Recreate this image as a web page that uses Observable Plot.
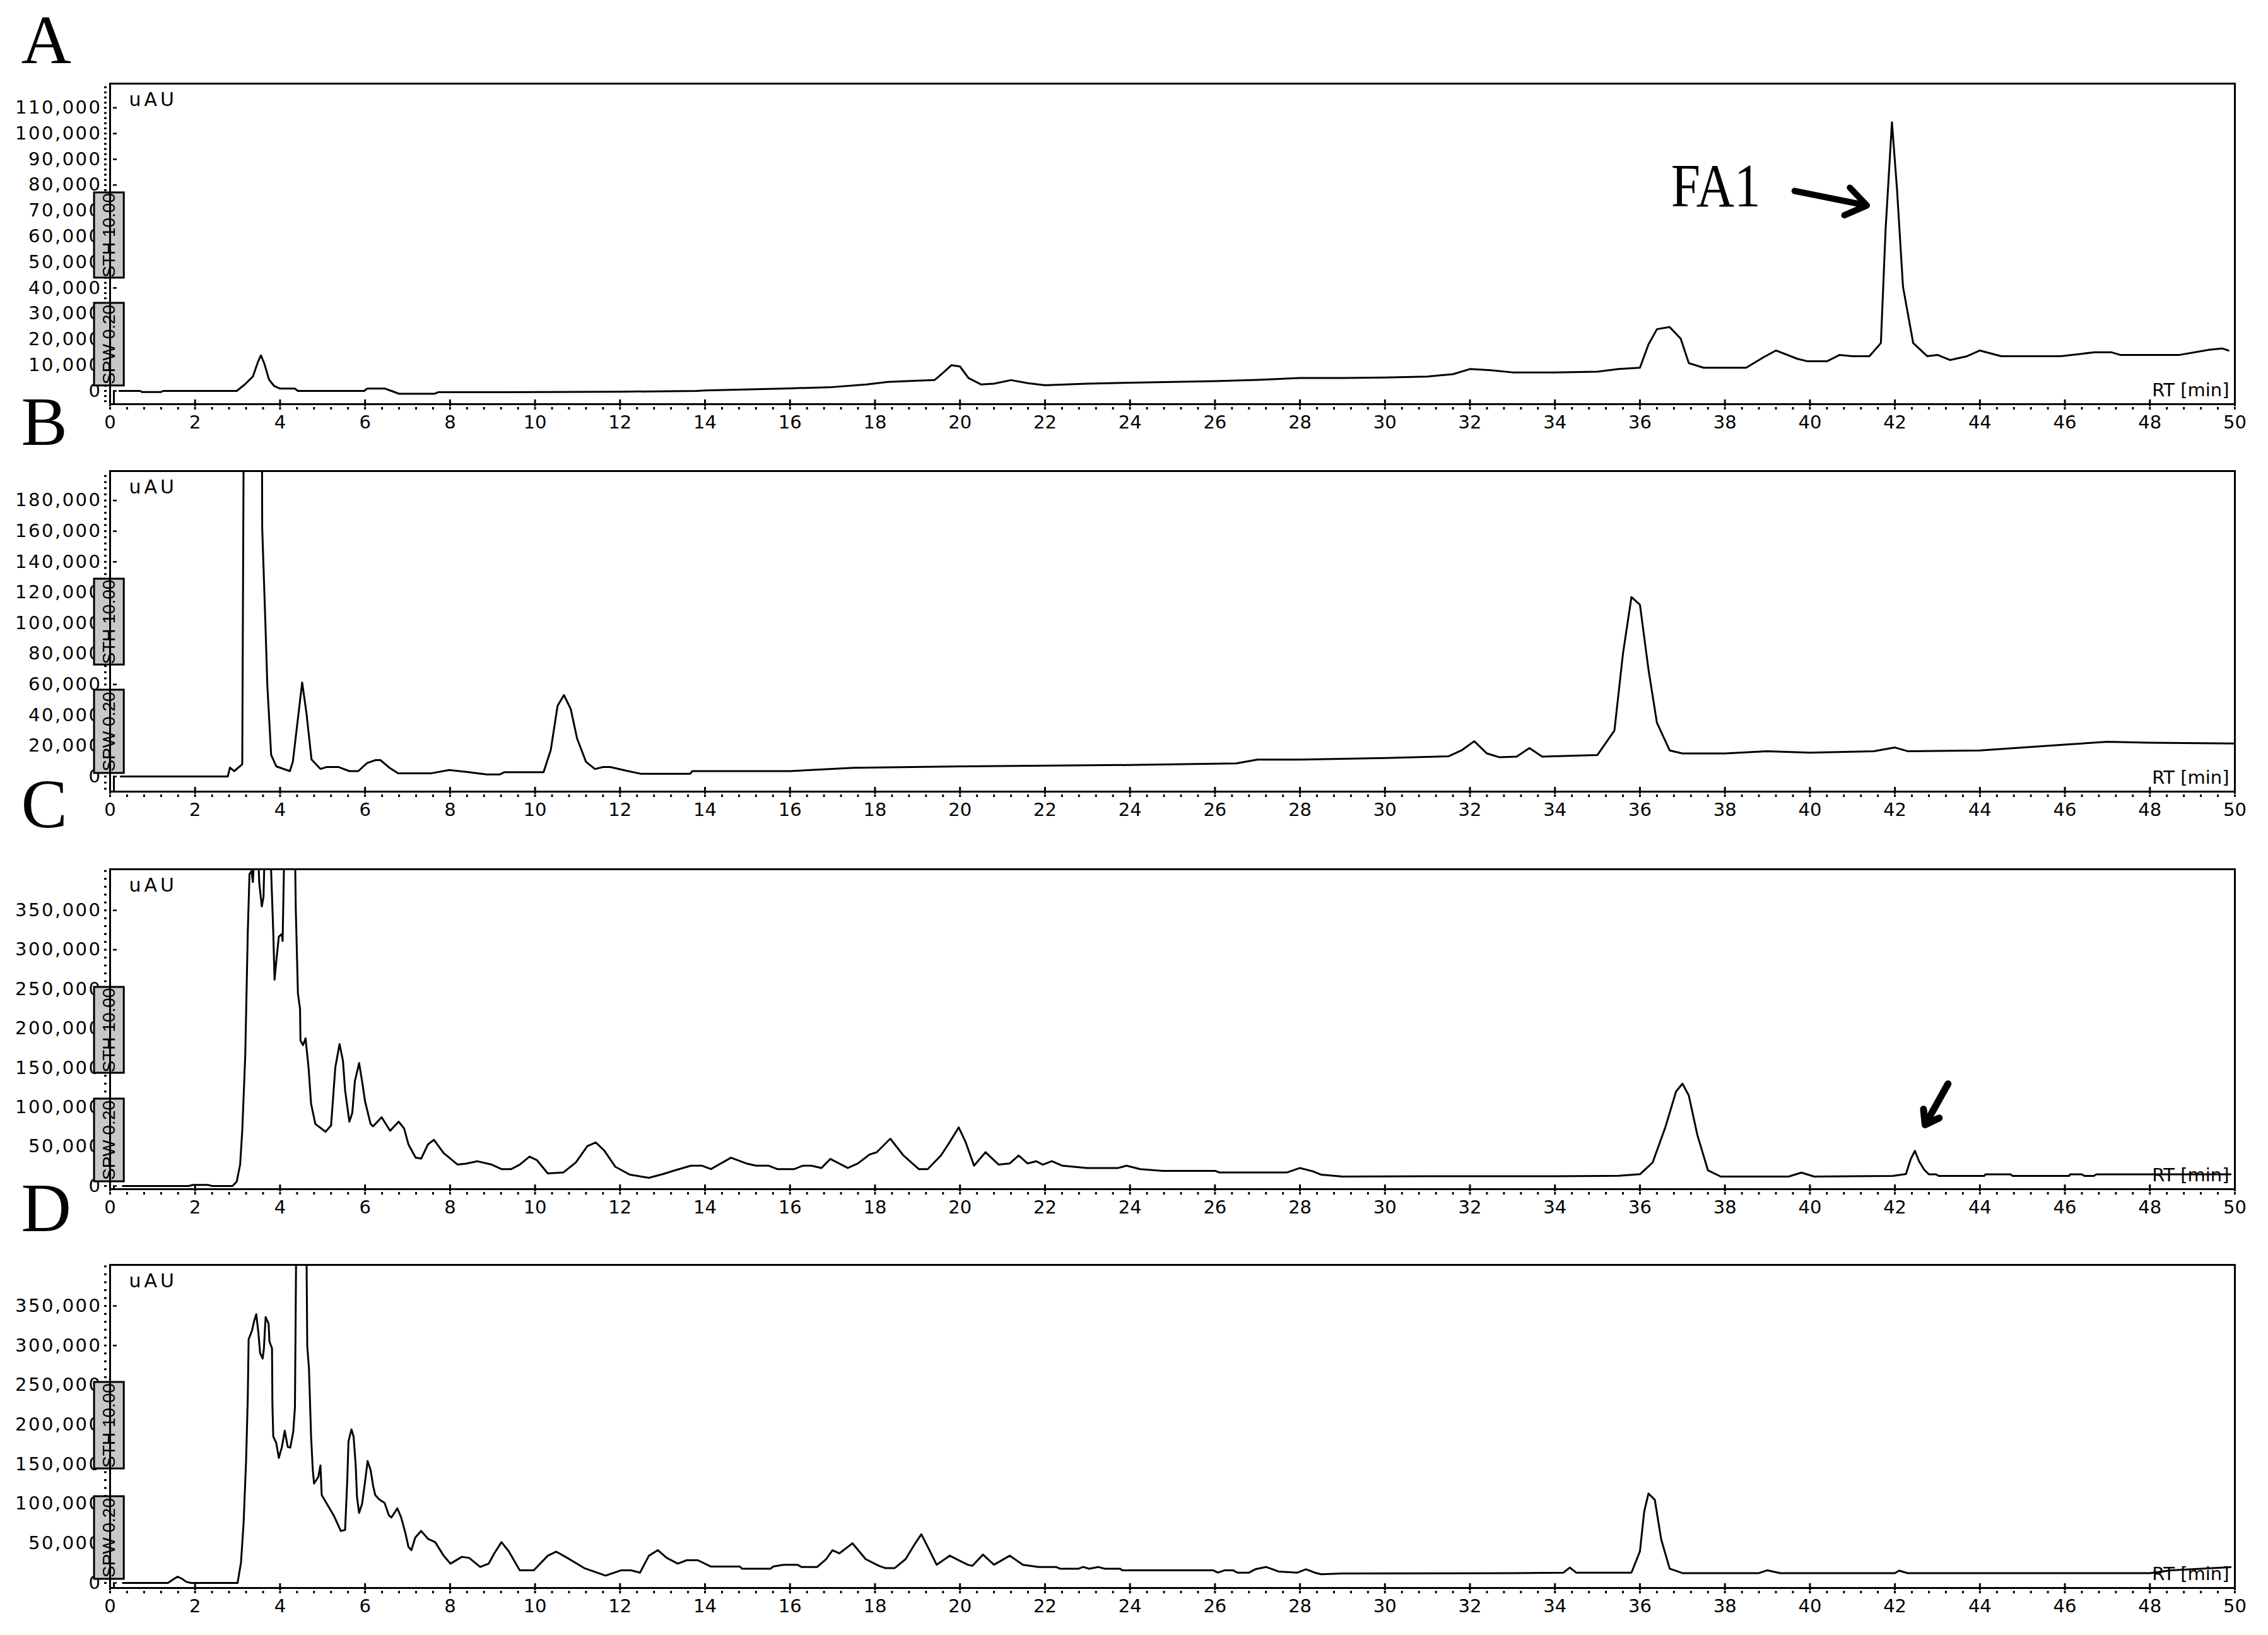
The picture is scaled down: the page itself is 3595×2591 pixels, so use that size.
<!DOCTYPE html>
<html><head><meta charset="utf-8">
<script src="https://cdn.jsdelivr.net/npm/d3@7"></script>
<script src="https://cdn.jsdelivr.net/npm/@observablehq/plot@0.6"></script>
<style>
html,body{margin:0;padding:0;background:#fff;}
#chart{position:relative;width:3595px;height:2591px;background:#fff;overflow:hidden;}
#chart svg{position:absolute;left:0;overflow:visible;}
[aria-label="y-axis tick label"] text{letter-spacing:2.5px;}
</style></head><body><div id="chart"></div>
<script>
// ---------- data ----------
const xTicks = [0,2,4,6,8,10,12,14,16,18,20,22,24,26,28,30,32,34,36,38,40,42,44,46,48,50];
const yTicksA = [0,10000,20000,30000,40000,50000,60000,70000,80000,90000,100000,110000];
const yTicksB = [0,20000,40000,60000,80000,100000,120000,140000,160000,180000];
const yTicksC = [0,50000,100000,150000,200000,250000,300000,350000];
const yTicksD = [0,50000,100000,150000,200000,250000,300000,350000];

const timeA = [0.22,0.7,0.75,1.2,1.25,2.98,3.17,3.36,3.48,3.55,3.63,3.74,3.86,4.0,4.35,4.42,5.98,6.05,6.47,6.62,6.8,7.64,7.72,9.3,12.0,13.8,14.0,16.0,17.0,17.8,18.3,19.0,19.4,19.6,19.8,20.0,20.2,20.5,20.8,21.2,21.6,22.0,23,24,25,26,27,28,29,30,31,31.6,32,32.5,33,34,35,35.5,36.0,36.2,36.4,36.7,36.96,37.15,37.5,38.5,38.9,39.2,39.7,39.95,40.4,40.7,41.0,41.4,41.67,41.78,41.93,42.05,42.19,42.43,42.76,43.0,43.3,43.7,44.0,44.5,45.9,46.7,47.1,47.3,48.7,49.4,49.7,49.85];
const signalA = [0,0,-400,-400,0,0,2500,5600,11300,13800,10600,4400,1900,900,900,0,0,900,900,0,-1100,-1100,-500,-500,-300,0,200,1000,1500,2500,3500,4000,4200,7000,10000,9500,5000,2500,2800,4200,3000,2200,2800,3200,3500,3800,4300,5000,5000,5200,5600,6500,8500,8000,7200,7200,7500,8500,9000,18000,24000,24800,20300,10800,9000,9000,13000,15700,12500,11500,11500,14000,13500,13500,18600,62500,104400,78200,40500,18600,13500,14000,12000,13500,15700,13500,13500,15000,15000,14000,14000,16000,16500,15700];

const timeB = [0.25,2.77,2.82,2.92,3.11,3.15,3.57,3.58,3.65,3.70,3.79,3.91,4.23,4.30,4.41,4.52,4.62,4.74,4.95,5.1,5.37,5.63,5.84,6.05,6.25,6.36,6.57,6.78,7.56,7.98,8.45,8.86,9.17,9.28,10.2,10.37,10.53,10.68,10.84,10.99,11.2,11.41,11.6,11.77,12.14,12.5,13.65,13.7,16.0,17.5,20,24,26.5,27,28,30,31.5,31.8,32.1,32.4,32.7,33.1,33.4,33.7,35.0,35.4,35.6,35.8,36.0,36.2,36.4,36.7,37,38,39,40,41.5,42,42.3,44,46,47,48,50];
const signalB = [0,0,5800,3500,8000,260000,260000,161700,104000,59700,14000,6600,3500,9500,35400,61300,41500,11100,4900,6200,6200,3500,3500,8800,10700,10700,5800,2100,2100,4200,2800,1300,1300,2800,2800,17300,46100,53100,44000,24700,9500,4900,6200,6200,3800,1700,1700,3500,3500,5700,6600,7500,8500,11000,11000,12000,13200,17000,23000,15000,12500,13000,18500,13000,14000,30000,80000,117000,112000,70000,35000,17000,15000,15000,16500,15500,16500,18900,16500,17000,20800,22600,22000,21500];

const timeC = [0.3,1.85,1.95,2.3,2.4,2.88,2.98,3.06,3.11,3.18,3.24,3.28,3.33,3.36,3.40,3.48,3.51,3.57,3.61,3.64,3.77,3.84,3.87,3.91,3.97,4.04,4.06,4.10,4.35,4.37,4.42,4.47,4.48,4.54,4.60,4.67,4.73,4.83,5.07,5.20,5.30,5.40,5.48,5.53,5.63,5.70,5.76,5.86,5.93,6.0,6.13,6.19,6.39,6.59,6.79,6.92,7.02,7.19,7.32,7.48,7.62,7.85,8.18,8.38,8.64,8.98,9.21,9.44,9.64,9.87,10.04,10.3,10.67,10.96,11.23,11.43,11.63,11.89,12.23,12.68,13.0,13.3,13.67,13.93,14.14,14.61,14.97,15.2,15.5,15.7,16.1,16.3,16.5,16.74,16.95,17.36,17.6,17.87,18.04,18.36,18.67,19.03,19.24,19.55,19.76,19.97,20.13,20.33,20.6,20.91,21.17,21.38,21.59,21.79,21.95,22.16,22.41,22.99,23.72,23.92,24.24,24.76,26.01,26.1,27.7,28.0,28.3,28.5,29,31,34,35.5,36.0,36.3,36.6,36.85,37.0,37.15,37.35,37.6,37.9,39.5,39.8,40.1,41.95,42.26,42.37,42.47,42.57,42.69,42.8,42.97,43.03,44.1,44.13,44.72,44.77,46.1,46.12,46.4,46.46,46.68,46.74,49.9];
const signalC = [0,0,1500,1500,0,0,5600,27200,70000,164600,322000,396000,400000,386000,430000,430000,385000,355000,367000,430000,430000,322000,262000,284700,316500,320000,311000,430000,430000,351000,244700,224700,184600,178900,187500,150600,104500,78800,68900,77000,150600,180300,158900,121800,81700,93000,133000,156200,133000,107400,78800,75900,87300,70100,81700,73100,52900,36000,34800,52900,58700,41700,27200,28500,31500,27200,21500,21500,27200,37300,33000,16000,17300,30000,50500,55300,45000,24400,14400,10400,15000,20000,25800,25800,21500,36000,28700,25800,25800,21500,21500,25800,25800,22900,34400,22900,28700,40000,42900,60100,38700,21500,21500,38700,56000,74500,56000,25800,42900,27200,28700,38700,28700,31500,27200,31500,25800,22900,22900,25800,21500,19200,19200,17300,17300,22900,18700,14400,12000,12500,12500,13000,15000,30000,75000,120000,130000,115000,65000,20000,12000,12000,17000,12000,12800,15200,33900,44700,31200,20600,14800,14800,12800,12800,14800,14800,12800,12800,14800,14800,12800,12800,14800,14800];

const timeD = [0.3,1.36,1.5,1.59,1.7,1.79,1.9,3.0,3.08,3.14,3.2,3.24,3.26,3.34,3.39,3.44,3.49,3.53,3.59,3.62,3.66,3.73,3.75,3.81,3.82,3.84,3.91,3.97,4.04,4.11,4.18,4.24,4.31,4.35,4.38,4.62,4.64,4.68,4.73,4.77,4.80,4.90,4.95,4.98,5.10,5.26,5.43,5.53,5.58,5.61,5.68,5.73,5.78,5.81,5.86,5.93,6.0,6.06,6.13,6.19,6.24,6.33,6.46,6.56,6.62,6.76,6.85,6.95,7.02,7.09,7.18,7.32,7.48,7.65,7.85,8.01,8.28,8.45,8.71,8.91,9.04,9.21,9.38,9.64,9.97,10.3,10.5,10.76,11.16,11.66,12.02,12.26,12.47,12.68,12.89,13.1,13.36,13.57,13.83,14.14,14.82,14.87,15.54,15.6,15.85,16.17,16.27,16.64,16.85,17.0,17.16,17.47,17.78,18.09,18.25,18.46,18.72,18.93,19.09,19.24,19.45,19.76,20.18,20.29,20.54,20.80,21.17,21.48,21.85,22.26,22.36,22.78,22.9,23.04,23.25,23.41,23.77,23.82,25.96,26.07,26.22,26.43,26.53,26.8,26.95,27.2,27.5,27.94,28.14,28.35,28.5,29,33,34.2,34.35,34.5,35.8,36.0,36.1,36.2,36.35,36.5,36.7,37,38.8,39.0,39.3,42.0,42.1,42.3,48,48.5,49.9];
const signalD = [0,0,5000,8000,5000,1500,0,0,25800,74000,154000,233600,307800,319000,331000,339500,316000,290600,283500,296500,336000,327600,305000,296500,225000,185000,177000,158000,171000,192300,172000,171000,191000,222000,430000,430000,299000,271000,185000,142700,125600,134000,148600,111000,100000,85600,65700,67000,128000,179000,194000,185000,148600,108600,88500,100000,128000,154000,142700,122600,111000,105600,101000,85600,82700,94200,82700,62800,45700,41400,57200,65700,55800,51500,34400,24400,33000,31600,20200,24400,37300,51500,40100,15900,15900,34400,39500,31600,18700,9300,15900,15900,13000,34400,41400,31600,24400,28700,28700,20700,20700,17900,17900,20700,23000,23000,20200,20200,30100,41400,37300,50100,30100,21600,18700,18700,30100,48700,61500,45700,23000,34400,23000,21600,35800,23000,34400,23000,20200,20200,17900,17900,20200,17900,20200,17900,17900,15900,15900,13000,15900,15900,13000,13000,17300,20200,14400,13000,17300,13000,11000,12000,12400,13000,19500,13000,13000,40000,90000,113000,105000,55000,18000,12400,12400,16000,12400,12400,15500,12400,12400,16000,20000];

const boxesA = [{label:"STH 10.00", y1:43900, y2:77000},{label:"SPW 0.20", y1:2000, y2:34100}];
const boxesB = [{label:"STH 10.00", y1:72800, y2:128800},{label:"SPW 0.20", y1:2100, y2:56400}];
const boxesC = [{label:"STH 10.00", y1:143400, y2:252400},{label:"SPW 0.20", y1:5600, y2:110600}];
const boxesD = [{label:"STH 10.00", y1:144300, y2:253600},{label:"SPW 0.20", y1:4800, y2:109200}];
const boxSpan = [-0.37, 0.33];
const injectionTime = [0.09];

const labelsA = [{t:36.73, v:71600, text:"FA1"}];
const arrowsA = [{t1:39.64, v1:77700, t2:41.34, v2:72060}];
const arrowsC = [{t1:43.25, v1:129800, t2:42.71, v2:77700}];

// ---------- layout ----------
const W = 3595, ML = 174, MR = 53, MT = 10, MB = 55;
const panels = [
  {letter:"A", t:timeA, v:signalA, top:132, h:508, dom:[-5150,119400], ticks:yTicksA, minor:2000, boxes:boxesA, letterDy:-33},
  {letter:"B", t:timeB, v:signalB, top:746, h:508, dom:[-9880,199200], ticks:yTicksB, minor:4000, boxes:boxesB, letterDy:-42},
  {letter:"C", t:timeC, v:signalC, top:1377, h:507, dom:[-4000,402200], ticks:yTicksC, minor:10000, boxes:boxesC, letterDy:-67},
  {letter:"D", t:timeD, v:signalD, top:2004, h:512, dom:[-6380,401900], ticks:yTicksD, minor:10000, boxes:boxesD, letterDy:-54}
];

const chart = document.getElementById("chart");
const xMinor = d3.range(0, 50.001, 0.4).map(d => +d.toFixed(2));

for (const p of panels) {
  const data = p.t.map((t, i) => ({t, v: p.v[i]}));
  const yMinor = d3.range(Math.ceil(p.dom[0] / p.minor) * p.minor, p.dom[1], p.minor);
  const marks = [
    Plot.axisY({ticks: p.ticks, tickSize: 0, tickPadding: 13, tickFormat: d3.format(","), fontSize: 29, fontFamily: "DejaVu Sans", label: null}),
    Plot.axisY({ticks: p.ticks, tickSize: 6, dx: 11, fill: "none", strokeWidth: 2.5, label: null}),
    Plot.axisY({ticks: yMinor, tickSize: 4, dx: -5, fill: "none", strokeWidth: 3, label: null}),
    Plot.axisX({ticks: xTicks, tickSize: 0, tickPadding: 18, fontSize: 29, fontFamily: "DejaVu Sans", label: null}),
    Plot.axisX({ticks: xTicks, tickSize: 11, dy: -7, fill: "none", strokeWidth: 3, label: null}),
    Plot.axisX({ticks: xMinor, tickSize: 4, dy: 5, fill: "none", strokeWidth: 3, label: null}),
    Plot.rect(p.boxes, {x1: () => boxSpan[0], x2: () => boxSpan[1], y1: "y1", y2: "y2", fill: "#c8c8c8", stroke: "black", strokeWidth: 3}),
    Plot.frame({stroke: "black", strokeWidth: 3}),
    Plot.text(p.boxes, {x: () => (boxSpan[0] + boxSpan[1]) / 2, y: d => (d.y1 + d.y2) / 2, text: "label", rotate: -90, fontSize: 28, fontFamily: "Liberation Sans", fill: "black"}),
    Plot.ruleX(injectionTime, {x: d => d, y1: 0, y2: p.dom[0], stroke: "black", strokeWidth: 3}),
    Plot.line(data, {x: "t", y: "v", stroke: "black", strokeWidth: 3, clip: true}),
    Plot.text(["uAU"], {frameAnchor: "top-left", dx: 30, dy: 14, text: d => d, textAnchor: "start", lineAnchor: "top", fontSize: 30, fontFamily: "DejaVu Sans", fill: "black"}),
    Plot.text(["RT [min]"], {frameAnchor: "bottom-right", dx: -9, dy: -13, text: d => d, textAnchor: "end", lineAnchor: "bottom", fontSize: 29, fontFamily: "DejaVu Sans", fill: "black"}),
    Plot.text([p.letter], {frameAnchor: "top-left", dx: 33 - ML, dy: p.letterDy, text: d => d, textAnchor: "start", lineAnchor: "bottom", fontSize: 110, fontFamily: "Liberation Serif", fill: "black"})
  ];
  if (p.letter === "A") {
    marks.push(Plot.text(labelsA, {x: "t", y: "v", text: "text", textAnchor: "start", lineAnchor: "bottom", fontSize: 98, fontFamily: "Liberation Serif", fill: "black"}));
    marks.push(Plot.arrow(arrowsA, {x1: "t1", y1: "v1", x2: "t2", y2: "v2", stroke: "black", strokeWidth: 10, headLength: 18, headAngle: 70}));
  }
  if (p.letter === "C") {
    marks.push(Plot.arrow(arrowsC, {x1: "t1", y1: "v1", x2: "t2", y2: "v2", stroke: "black", strokeWidth: 11, headLength: 20, headAngle: 70}));
  }
  const svg = Plot.plot({
    width: W, height: p.h + MT + MB,
    marginLeft: ML, marginRight: MR, marginTop: MT, marginBottom: MB,
    style: {background: "transparent", overflow: "visible", color: "black", fontFamily: "DejaVu Sans"},
    x: {domain: [0, 50]},
    y: {domain: p.dom},
    marks
  });
  svg.style.top = (p.top - MT) + "px";
  for (const t of svg.querySelectorAll("text")) {
    if (t.textContent === "uAU") t.style.letterSpacing = "5px";
    if (t.textContent === "FA1") { t.setAttribute("textLength", "142"); t.setAttribute("lengthAdjust", "spacingAndGlyphs"); }
  }
  chart.appendChild(svg);
}
</script></body></html>
